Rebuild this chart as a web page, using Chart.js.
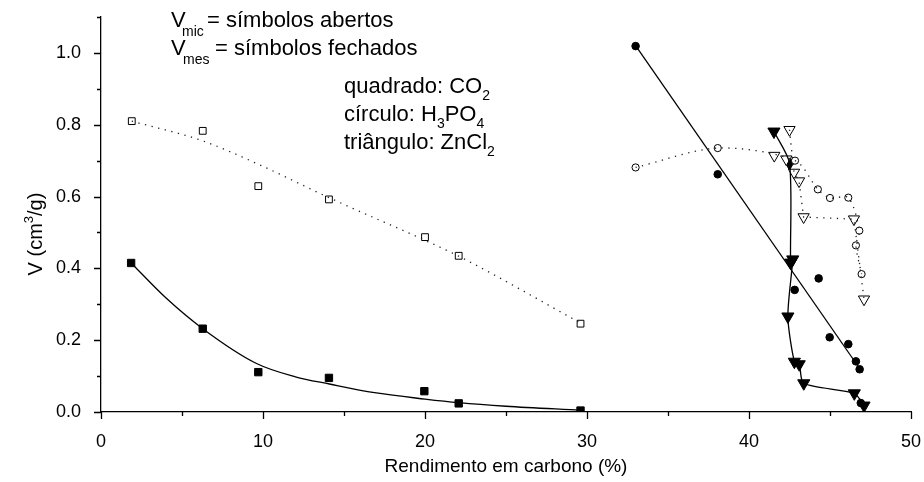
<!DOCTYPE html>
<html>
<head>
<meta charset="utf-8">
<script src="https://cdn.jsdelivr.net/npm/chart.js@4/dist/chart.umd.min.js"></script>
<style>
  html, body { margin: 0; padding: 0; background: #fff; }
  #wrap { width: 924px; height: 482px; }
</style>
</head>
<body>
<div id="wrap"><canvas id="chart" width="924" height="482"></canvas></div>
<script>
// x ticks / y ticks
const xTicks = [0, 10, 20, 30, 40, 50];
const yTicks = [0, 0.2, 0.4, 0.6, 0.8, 1.0];

// CO2 (squares)
const co2MicX = [1.9, 6.28, 9.71, 14.07, 20.0, 22.08, 29.6];
const co2MicY = [0.81, 0.783, 0.629, 0.592, 0.487, 0.435, 0.246];
const co2MicFitX = [1.9, 6.28, 9.71, 14.07, 20.0, 22.08, 29.6];
const co2MicFitY = [0.81, 0.755, 0.69, 0.597, 0.478, 0.434, 0.248];
const co2MesX = [1.86, 6.28, 9.71, 14.07, 19.96, 22.08, 29.6];
const co2MesY = [0.415, 0.232, 0.111, 0.095, 0.058, 0.024, 0.004];
const co2MesFitX = [1.86, 4, 6.28, 9.6, 12, 14.1, 17, 20, 22.08, 25, 29.6];
const co2MesFitY = [0.415, 0.318, 0.232, 0.135, 0.098, 0.078, 0.053, 0.036, 0.026, 0.016, 0.005];

// H3PO4 (circles)
const h3po4MicX = [33.0, 38.07, 42.84, 44.25, 45.0, 46.13, 46.81, 46.6, 46.95];
const h3po4MicY = [0.681, 0.735, 0.70, 0.62, 0.596, 0.597, 0.505, 0.464, 0.384];
const h3po4MesX = [33.0, 38.07, 42.82, 44.3, 44.98, 46.13, 46.6, 46.83, 46.9];
const h3po4MesY = [1.019, 0.662, 0.34, 0.372, 0.208, 0.189, 0.141, 0.119, 0.025];
const h3po4MesFitX = [33.0, 47.0];
const h3po4MesFitY = [1.02, 0.11];

// ZnCl2 (triangles)
const zncl2MicX = [41.56, 42.3, 42.5, 42.78, 43.09, 43.37, 46.48, 47.1];
const zncl2MicY = [0.714, 0.704, 0.786, 0.667, 0.643, 0.543, 0.537, 0.314];
const zncl2MicLineX = [42.5, 42.78, 43.09, 43.37, 46.48, 47.1];
const zncl2MicLineY = [0.786, 0.667, 0.643, 0.543, 0.537, 0.314];
const zncl2MesX = [41.54, 42.5, 42.57, 42.7, 42.4, 42.8, 43.1, 43.38, 46.5, 47.1];
const zncl2MesY = [0.781, 0.693, 0.416, 0.425, 0.266, 0.14, 0.133, 0.08, 0.052, 0.018];

const FONT = '"Liberation Sans", Arial, sans-serif';

function pts(xs, ys) {
    return xs.map((x, i) => ({ x: x, y: ys[i] }));
}

function marks(xs, ys, style, filled, radius, rot) {
    return {
        data: pts(xs, ys),
        showLine: false,
        pointStyle: style,
        pointRotation: rot || 0,
        pointRadius: radius,
        pointHoverRadius: radius,
        pointBackgroundColor: filled ? '#000' : '#fff',
        pointBorderColor: '#000',
        pointBorderWidth: 1
    };
}

function curve(xs, ys, dotted, tension, mode) {
    return {
        data: pts(xs, ys),
        showLine: true,
        pointRadius: 0,
        borderColor: dotted ? '#222' : '#000',
        borderWidth: 1.3,
        borderDash: dotted ? [1.3, 5.5] : [],
        tension: tension,
        cubicInterpolationMode: mode || 'default',
        fill: false
    };
}

// axis ticks (major + minor) and texts
const decorations = {
    id: 'decorations',
    afterDraw(chart) {
        const ctx = chart.ctx;
        const xs = chart.scales.x, ys = chart.scales.y;
        const bottom = ys.getPixelForValue(0);
        const left = xs.getPixelForValue(0);
        ctx.save();
        ctx.strokeStyle = '#000';
        ctx.lineWidth = 1.3;
        ctx.beginPath();
        for (let v = 0; v <= 50; v += 5) {
            const px = Math.round(xs.getPixelForValue(v)) + 0.5;
            ctx.moveTo(px, bottom);
            ctx.lineTo(px, bottom + (v % 10 === 0 ? 7 : 4));
        }
        for (let i = 0; i <= 11; i++) {
            const py = Math.round(ys.getPixelForValue(i / 10)) + 0.5;
            ctx.moveTo(left, py);
            ctx.lineTo(left - (i % 2 === 0 ? 7 : 4), py);
        }
        ctx.stroke();

        ctx.fillStyle = '#000';
        ctx.textBaseline = 'alphabetic';
        ctx.textAlign = 'left';

        // legend notes
        ctx.font = '22px ' + FONT;
        ctx.fillText('V', 171, 27);
        ctx.fillText('= símbolos abertos', 207, 27);
        ctx.fillText('V', 171, 55);
        ctx.fillText('= símbolos fechados', 215, 55);
        ctx.font = '14px ' + FONT;
        ctx.fillText('mic', 182, 36);
        ctx.fillText('mes', 183, 64);

        ctx.font = '22px ' + FONT;
        let x = 344;
        let t = 'quadrado: CO';
        ctx.fillText(t, x, 93);
        let w = ctx.measureText(t).width;
        ctx.font = '14px ' + FONT;
        ctx.fillText('2', x + w, 100);

        ctx.font = '22px ' + FONT;
        t = 'círculo: H';
        ctx.fillText(t, x, 121);
        w = ctx.measureText(t).width;
        ctx.font = '14px ' + FONT;
        ctx.fillText('3', x + w, 128);
        let w2 = ctx.measureText('3').width;
        ctx.font = '22px ' + FONT;
        ctx.fillText('PO', x + w + w2, 121);
        let w3 = ctx.measureText('PO').width;
        ctx.font = '14px ' + FONT;
        ctx.fillText('4', x + w + w2 + w3, 128);

        ctx.font = '22px ' + FONT;
        t = 'triângulo: ZnCl';
        ctx.fillText(t, x, 149);
        w = ctx.measureText(t).width;
        ctx.font = '14px ' + FONT;
        ctx.fillText('2', x + w, 156);

        // axis titles
        ctx.font = '19px ' + FONT;
        ctx.textAlign = 'center';
        ctx.fillText('Rendimento em carbono (%)', 506, 472);
        ctx.translate(42, 234);
        ctx.rotate(-Math.PI / 2);
        ctx.textAlign = 'left';
        ctx.font = '20px ' + FONT;
        const a = 'V (cm', b = '/g)';
        const wa = ctx.measureText(a).width, wb = ctx.measureText(b).width;
        ctx.font = '13px ' + FONT;
        const ws = ctx.measureText('3').width;
        const x0 = -(wa + ws + wb) / 2;
        ctx.fillText('3', x0 + wa, -9);
        ctx.font = '20px ' + FONT;
        ctx.fillText(a, x0, 0);
        ctx.fillText(b, x0 + wa + ws, 0);
        ctx.restore();
    }
};

new Chart(document.getElementById('chart').getContext('2d'), {
    type: 'scatter',
    data: {
        datasets: [
            curve(co2MicFitX, co2MicFitY, true, 0.4, 'monotone'),
            curve(co2MesFitX, co2MesFitY, false, 0.4, 'monotone'),
            curve(h3po4MicX, h3po4MicY, true, 0.3),
            curve(h3po4MesFitX, h3po4MesFitY, false, 0),
            curve(zncl2MicLineX, zncl2MicLineY, true, 0),
            curve(zncl2MesX, zncl2MesY, false, 0.25),
            marks(co2MicX, co2MicY, 'rect', false, 4.8),
            marks(co2MesX, co2MesY, 'rect', true, 5.2),
            marks(h3po4MicX, h3po4MicY, 'circle', false, 3.6),
            marks(h3po4MesX, h3po4MesY, 'circle', true, 3.8),
            marks(zncl2MicX, zncl2MicY, 'triangle', false, 6.5, 180),
            marks(zncl2MesX, zncl2MesY, 'triangle', true, 7, 180)
        ]
    },
    options: {
        responsive: false,
        animation: false,
        events: [],
        layout: { padding: { top: 17, right: 13, left: 0, bottom: 0 } },
        plugins: { legend: { display: false }, tooltip: { enabled: false } },
        scales: {
            x: {
                type: 'linear',
                min: 0, max: 50,
                afterBuildTicks: s => { s.ticks = xTicks.map(v => ({ value: v })); },
                afterFit: s => { s.height = 70; s.paddingLeft = 0; s.paddingRight = 0; },
                grid: { display: false },
                border: { display: true, color: '#000', width: 1.3 },
                ticks: { color: '#000', padding: 11, font: { family: FONT, size: 18 }, maxRotation: 0 }
            },
            y: {
                type: 'linear',
                min: 0, max: 1.1,
                afterBuildTicks: s => { s.ticks = yTicks.map(v => ({ value: v })); },
                afterFit: s => { s.width = 101; s.paddingTop = 0; s.paddingBottom = 0; },
                grid: { display: false },
                border: { display: true, color: '#000', width: 1.3 },
                ticks: {
                    color: '#000', padding: 12, font: { family: FONT, size: 18 },
                    callback: v => v.toFixed(1)
                }
            }
        }
    },
    plugins: [decorations]
});
</script>
</body>
</html>
